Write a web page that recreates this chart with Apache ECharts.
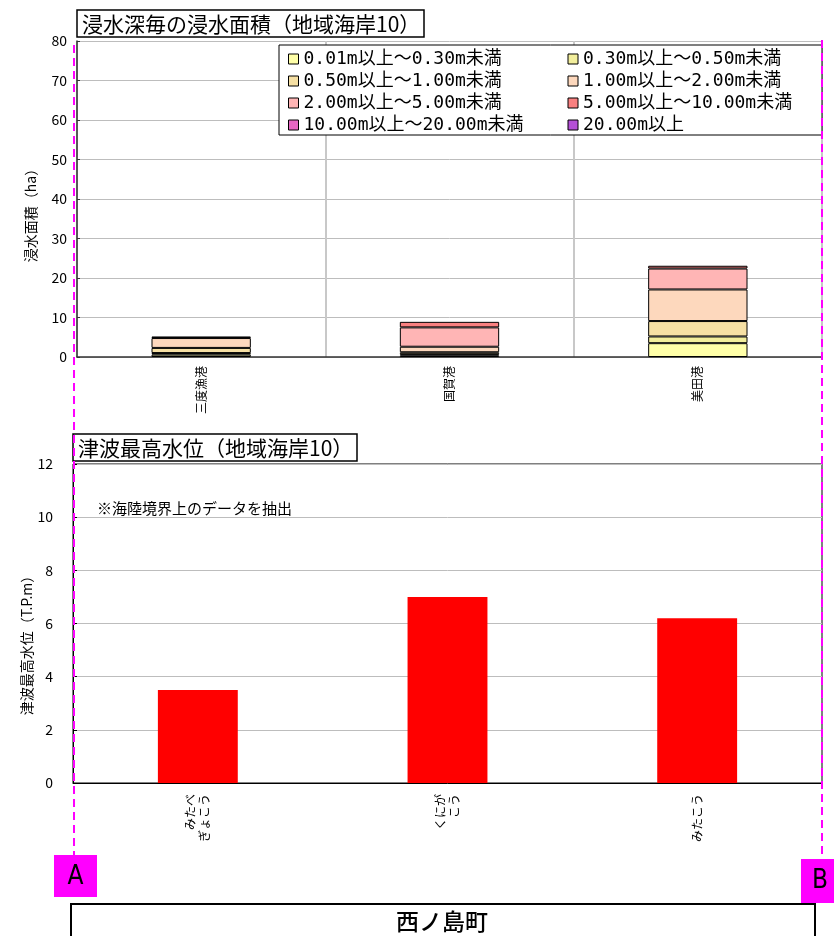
<!DOCTYPE html>
<html><head><meta charset="utf-8">
<script src="https://cdn.jsdelivr.net/npm/echarts@6/dist/echarts.min.js"></script>
<style>html,body{margin:0;padding:0;background:#fff}#c{width:834px;height:936px}</style>
</head><body><div id="c"></div>
<script>
// ---- data ----
const topCategories = ['三度漁港', '国賀港', '美田港'];
const depthNames = ['0.01m以上～0.30m未満', '0.30m以上～0.50m未満', '0.50m以上～1.00m未満', '1.00m以上～2.00m未満',
  '2.00m以上～5.00m未満', '5.00m以上～10.00m未満', '10.00m以上～20.00m未満', '20.00m以上'];
const area_001_030 = [0.6, 0.4, 3.5];
const area_030_050 = [0.4, 0.3, 1.7];
const area_050_100 = [1.3, 0.5, 3.9];
const area_100_200 = [2.5, 1.4, 8.0];
const area_200_500 = [0.4, 4.9, 5.3];
const area_500_1000 = [0, 1.4, 0.7];
const area_1000_2000 = [0, 0, 0];
const area_2000 = [0, 0, 0];
const topYTicks = [0, 10, 20, 30, 40, 50, 60, 70, 80];

const bottomCategories = ['みたべ\nぎょこう', 'くにが\nこう', 'みたこう'];
const maxWaterLevel = [3.5, 7.0, 6.2];
const bottomYTicks = [0, 2, 4, 6, 8, 10, 12];

// ---- styles ----
const depthColors = ['#FFFFA8', '#F2EE9C', '#F6E0A4', '#FDD8BD', '#FFB5B5', '#F98080', '#E766C3', '#B44FD6'];
const areaSeries = [area_001_030, area_030_050, area_050_100, area_100_200, area_200_500, area_500_1000, area_1000_2000, area_2000];
const JP = "'Noto Sans CJK JP', sans-serif";
const MONO = "'DejaVu Sans Mono', 'Noto Sans CJK JP', monospace";
const NARROW = "'DejaVu Sans Condensed', 'Liberation Sans Narrow', sans-serif";

const chart = echarts.init(document.getElementById('c'), null, {renderer: 'canvas'});

const series = areaSeries.map((arr, i) => ({
  name: depthNames[i], type: 'bar', stack: 'area', xAxisIndex: 0, yAxisIndex: 0,
  barWidth: '40%',
  data: arr.map(v => v === 0 ? null : v),
  itemStyle: {color: depthColors[i], borderColor: '#000', borderWidth: 1},
  emphasis: {disabled: true}
}));
series.push({
  name: 'level', type: 'bar', xAxisIndex: 1, yAxisIndex: 1, barWidth: '32%',
  data: maxWaterLevel, itemStyle: {color: '#FF0000'}, emphasis: {disabled: true}
});

const option = {
  animation: false,
  backgroundColor: '#fff',
  textStyle: {fontFamily: JP},
  grid: [
    {left: 77, top: 41, width: 745, height: 316, show: false},
    {left: 73, top: 464, width: 749, height: 319, show: true, borderColor: '#000', borderWidth: 1, backgroundColor: 'transparent'}
  ],
  legend: {
    data: depthNames, left: 283, top: 43, width: 560, orient: 'horizontal',
    itemGap: 0, itemWidth: 10, itemHeight: 10, icon: 'rect',
    itemStyle: {borderColor: '#000', borderWidth: 1},
    textStyle: {fontFamily: MONO, fontSize: 18, color: '#000', width: 264, lineHeight: 22, height: 22, padding: [0, 0, 0, 0]},
    selectedMode: false, z: 5
  },
  xAxis: [
    {type: 'category', gridIndex: 0, data: topCategories,
     axisLine: {lineStyle: {color: '#333', width: 1.5}}, axisTick: {show: false},
     splitLine: {show: true, lineStyle: {color: '#C8C8C8', width: 2}},
     axisLabel: {rotate: 90, interval: 0, fontSize: 12, color: '#000', margin: 9, fontFamily: JP}},
    {type: 'category', gridIndex: 1, data: bottomCategories,
     axisLine: {lineStyle: {color: '#000', width: 1}}, axisTick: {show: false},
     axisLabel: {rotate: 90, interval: 0, fontSize: 12, color: '#000', margin: 11, lineHeight: 14, fontFamily: JP}}
  ],
  yAxis: [
    {type: 'value', gridIndex: 0, min: topYTicks[0], max: topYTicks[topYTicks.length - 1], interval: topYTicks[1] - topYTicks[0],
     axisLine: {show: true, lineStyle: {color: '#333', width: 1.5}},
     axisTick: {show: true, inside: true, length: 3, lineStyle: {color: '#333'}},
     splitLine: {show: true, lineStyle: {color: '#BDBDBD', width: 1}},
     axisLabel: {fontSize: 14, color: '#000', margin: 10}},
    {type: 'value', gridIndex: 1, min: bottomYTicks[0], max: bottomYTicks[bottomYTicks.length - 1], interval: bottomYTicks[1] - bottomYTicks[0],
     axisLine: {show: true, lineStyle: {color: '#000', width: 1}},
     axisTick: {show: true, inside: true, length: 4, lineStyle: {color: '#000'}},
     splitLine: {show: true, lineStyle: {color: '#BDBDBD', width: 1}},
     axisLabel: {fontSize: 14, color: '#000', margin: 20}}
  ],
  series: series,
  graphic: [
    // legend frame
    {type: 'rect', z: 3, shape: {x: 279, y: 45, width: 543, height: 90}, style: {fill: '#fff', stroke: '#000', lineWidth: 1}},
    // top title
    {type: 'rect', z: 3, shape: {x: 77, y: 10, width: 347, height: 27}, style: {fill: '#fff', stroke: '#000', lineWidth: 1.5}},
    {type: 'text', z: 4, x: 82, y: 24, style: {text: '浸水深毎の浸水面積（地域海岸10）', fontSize: 21, fontFamily: JP, fill: '#000', verticalAlign: 'middle'}},
    // bottom title
    {type: 'rect', z: 3, shape: {x: 73, y: 434, width: 284, height: 27}, style: {fill: '#fff', stroke: '#000', lineWidth: 1.5}},
    {type: 'text', z: 4, x: 78, y: 448, style: {text: '津波最高水位（地域海岸10）', fontSize: 21, fontFamily: JP, fill: '#000', verticalAlign: 'middle'}},
    // axis names
    {type: 'text', z: 4, x: 31, y: 212, rotation: Math.PI / 2, style: {text: '浸水面積（ha）', fontSize: 14, fontFamily: JP, fill: '#000', align: 'center', verticalAlign: 'middle'}},
    {type: 'text', z: 4, x: 27, y: 642, rotation: Math.PI / 2, style: {text: '津波最高水位（T.P.m）', fontSize: 14, fontFamily: JP, fill: '#000', align: 'center', verticalAlign: 'middle'}},
    // note
    {type: 'text', z: 4, x: 97, y: 508, style: {text: '※海陸境界上のデータを抽出', fontSize: 15, fontFamily: JP, fill: '#000', verticalAlign: 'middle'}},
    // pink dashed lines
    {type: 'line', z: 10, shape: {x1: 74, y1: 45, x2: 74, y2: 855}, style: {stroke: '#FF00FF', lineWidth: 2, lineDash: [8, 5]}},
    {type: 'line', z: 10, shape: {x1: 822, y1: 40, x2: 822, y2: 860}, style: {stroke: '#FF00FF', lineWidth: 2, lineDash: [8, 5]}},
    // A / B markers
    {type: 'rect', z: 11, shape: {x: 54, y: 855, width: 43, height: 42}, style: {fill: '#FF00FF'}},
    {type: 'text', z: 12, x: 75.5, y: 877, style: {text: 'A', fontSize: 26, fontFamily: NARROW, fill: '#000', align: 'center', verticalAlign: 'middle'}},
    {type: 'rect', z: 11, shape: {x: 801, y: 859, width: 33, height: 44}, style: {fill: '#FF00FF'}},
    {type: 'text', z: 12, x: 820, y: 881, style: {text: 'B', fontSize: 26, fontFamily: NARROW, fill: '#000', align: 'center', verticalAlign: 'middle'}},
    // town box
    {type: 'rect', z: 3, shape: {x: 71, y: 904, width: 744, height: 40}, style: {fill: '#fff', stroke: '#000', lineWidth: 2}},
    {type: 'text', z: 4, x: 442, y: 921, style: {text: '西ノ島町', fontSize: 23, fontWeight: 500, fontFamily: JP, fill: '#000', align: 'center', verticalAlign: 'middle'}}
  ]
};
chart.setOption(option);
</script>
</body></html>
